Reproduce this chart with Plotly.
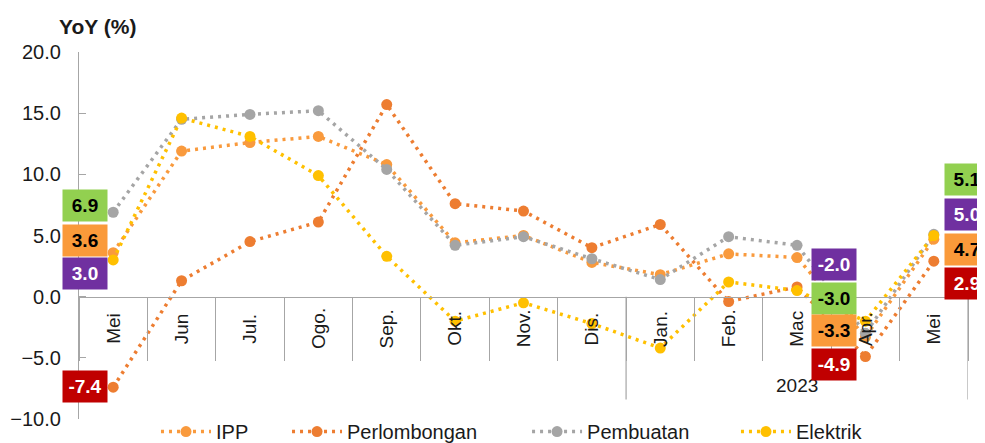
import plotly.graph_objects as go

# ---------------- data ----------------
categories = ["Mei", "Jun", "Jul.", "Ogo.", "Sep.", "Okt.", "Nov.", "Dis.",
              "Jan.", "Feb.", "Mac", "Apr.", "Mei"]
year_label = "2023"
year_start, year_end = 8, 12          # Jan. .. Mei belong to 2023

ipp          = [3.6, 11.9, 12.6, 13.1, 10.8, 4.4, 5.0, 2.8, 1.8, 3.5, 3.2, -3.3, 4.7]
perlombongan = [-7.4, 1.3, 4.5, 6.1, 15.7, 7.6, 7.0, 4.0, 5.9, -0.4, 0.8, -4.9, 2.9]
pembuatan    = [6.9, 14.5, 14.9, 15.2, 10.4, 4.2, 4.9, 3.1, 1.4, 4.9, 4.2, -3.0, 5.1]
elektrik     = [3.0, 14.6, 13.1, 9.9, 3.3, -2.0, -0.5, -2.2, -4.2, 1.2, 0.5, -2.0, 5.0]

series_names = ["IPP", "Perlombongan", "Pembuatan", "Elektrik"]
y_ticks = [-10, -5, 0, 5, 10, 15, 20]

# ---------------- style ----------------
FONT = "Liberation Sans, Arial, sans-serif"
TXT = "#1a1a1a"
AXC = "#A6A6A6"
line_colors = {"IPP": "#F99A3D", "Perlombongan": "#ED7D31",
               "Pembuatan": "#A5A5A5", "Elektrik": "#FFC000"}
label_bg = {"IPP": "#FA9A3A", "Perlombongan": "#C00000",
            "Pembuatan": "#92D050", "Elektrik": "#7030A0"}
label_fg = {"IPP": "#000000", "Perlombongan": "#FFFFFF",
            "Pembuatan": "#000000", "Elektrik": "#FFFFFF"}
# legend entry positions (paper x of each legend box)
legend_x = {"IPP": 0.0866, "Perlombongan": 0.234,
            "Pembuatan": 0.504, "Elektrik": 0.739}
# which points get value boxes, and pixel offsets of each box from its point
label_offsets = {
    0:  (-28, {"Pembuatan": 7, "IPP": 12, "Elektrik": -14, "Perlombongan": 1}),
    11: (-31, {"Elektrik": 57, "Pembuatan": 35, "IPP": 7, "Perlombongan": -8}),
    12: (33, {"Pembuatan": 55, "Elektrik": 21, "IPP": -10, "Perlombongan": -22}),
}

data = {"IPP": ipp, "Perlombongan": perlombongan,
        "Pembuatan": pembuatan, "Elektrik": elektrik}
x = list(range(len(categories)))

fig = go.Figure()
legend_ids = {}
for k, name in enumerate(series_names):
    lid = "legend" if k == 0 else f"legend{k + 1}"
    legend_ids[name] = lid
    fig.add_trace(go.Scatter(
        x=x, y=data[name], name=name, mode="lines+markers",
        line=dict(color=line_colors[name], width=3.5, dash="3px,5px"),
        marker=dict(color=line_colors[name], size=11),
        cliponaxis=False, legend=lid,
    ))

annotations = []
# category labels (rotated, centred below the zero line)
for i, c in enumerate(categories):
    annotations.append(dict(
        x=i, y=0, xref="x", yref="y", text=c, textangle=-90,
        showarrow=False, xanchor="center", yanchor="middle", yshift=-32,
        font=dict(family=FONT, size=19, color=TXT)))
# year label
annotations.append(dict(
    x=(year_start + year_end) / 2, y=0, xref="x", yref="y", text=year_label,
    showarrow=False, xanchor="center", yanchor="middle", yshift=-89,
    font=dict(family=FONT, size=19, color=TXT)))
# value boxes
for idx, (xs, ys) in label_offsets.items():
    for name, dy in ys.items():
        v = data[name][idx]
        annotations.append(dict(
            x=idx, y=v, xref="x", yref="y", text=f"<b>{v:.1f}</b>",
            showarrow=False, xanchor="center", yanchor="middle",
            xshift=xs, yshift=dy, width=40, height=27,
            bgcolor=label_bg[name], borderpad=2,
            font=dict(family=FONT, size=19, color=label_fg[name])))
# y title
annotations.append(dict(
    x=-0.025, y=1.07, xref="paper", yref="paper", text="<b>YoY (%)</b>",
    showarrow=False, xanchor="left", yanchor="middle",
    font=dict(family=FONT, size=21, color=TXT)))

shapes = []
for bx in (year_start - 0.5, year_end + 0.5):
    shapes.append(dict(type="line", xref="x", yref="paper",
                       x0=bx, x1=bx, y0=1 / 3, y1=0.053,
                       line=dict(color=AXC, width=1.2)))

legends = {}
for name in series_names:
    legends[legend_ids[name]] = dict(
        orientation="h", x=legend_x[name], xanchor="left", y=0.019,
        yanchor="top", font=dict(family=FONT, size=20, color=TXT),
        itemwidth=50, bgcolor="rgba(0,0,0,0)")

fig.update_layout(
    width=977, height=435,
    margin=dict(l=71, r=17, t=44, b=24, autoexpand=False),
    paper_bgcolor="white", plot_bgcolor="white",
    font=dict(family=FONT, size=19, color=TXT),
    showlegend=True,
    **legends,
    xaxis=dict(type="linear", range=[-0.5, len(categories) - 0.5],
               anchor="free", position=1 / 3,
               showline=True, linecolor=AXC, linewidth=1.2,
               tickvals=[i - 0.5 for i in range(len(categories) + 1)],
               showticklabels=False, ticks="outside", ticklen=63,
               tickcolor=AXC, tickwidth=1.2, showgrid=False, zeroline=False),
    yaxis=dict(range=[-10, 20], domain=[0, 1], tickvals=y_ticks,
               tickformat=".1f", showline=True, linecolor=AXC, linewidth=1.2,
               ticks="inside", ticklen=7, tickcolor=AXC, tickwidth=1.2,
               ticklabelstandoff=13,
               showgrid=False, zeroline=False,
               tickfont=dict(family=FONT, size=20, color=TXT)),
    annotations=annotations,
    shapes=shapes,
)

fig.write_html("out.html")
